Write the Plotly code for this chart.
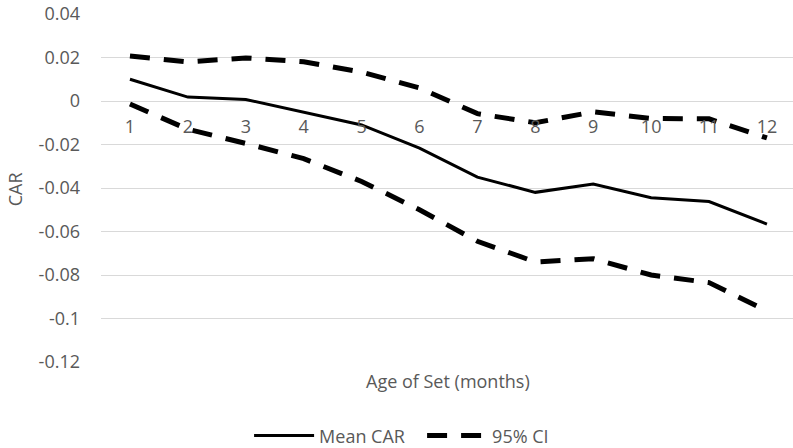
import plotly.graph_objects as go

months = list(range(1, 13))
mean_car = [0.0100, 0.0018, 0.0007, -0.0050, -0.0110, -0.0217, -0.0350, -0.0420, -0.0382, -0.0445, -0.0462, -0.0566]
ci_upper = [0.0207, 0.0180, 0.0198, 0.0180, 0.0133, 0.0060, -0.0058, -0.0100, -0.0050, -0.0080, -0.0082, -0.0170]
ci_lower = [-0.0014, -0.0130, -0.0195, -0.0265, -0.0370, -0.0500, -0.0645, -0.0740, -0.0725, -0.0800, -0.0835, -0.0965]
y_ticks = [0.04, 0.02, 0, -0.02, -0.04, -0.06, -0.08, -0.1, -0.12]
y_tick_text = ["0.04", "0.02", "0", "-0.02", "-0.04", "-0.06", "-0.08", "-0.1", "-0.12"]

FONT = "Open Sans"
GRAY = "#595959"
FS = 18

fig = go.Figure()
fig.add_trace(go.Scatter(x=months, y=mean_car, mode="lines", name="Mean CAR",
                         line=dict(color="black", width=3)))
fig.add_trace(go.Scatter(x=months, y=ci_upper, mode="lines", name="95% CI",
                         legendgroup="ci",
                         line=dict(color="black", width=5, dash="20px,14px")))
fig.add_trace(go.Scatter(x=months, y=ci_lower, mode="lines", name="95% CI",
                         legendgroup="ci", showlegend=False,
                         line=dict(color="black", width=5, dash="20px,14px")))

fig.update_layout(
    width=793, height=448,
    margin=dict(l=101, r=0, t=14, b=86, autoexpand=False),
    plot_bgcolor="white", paper_bgcolor="white",
    font=dict(family=FONT, size=FS, color=GRAY),
    showlegend=True,
    legend=dict(orientation="h", x=0.464, xanchor="center",
                y=-0.212, yanchor="middle",
                font=dict(size=FS, color=GRAY), itemwidth=60,
                entrywidth=98, entrywidthmode="pixels",
                tracegroupgap=0),
    xaxis=dict(range=[0.5, 12.45], tickvals=months, ticktext=[str(m) for m in months],
               showgrid=False, zeroline=False, showline=False,
               anchor="free", position=0.75, ticks="", ticklabelstandoff=13,
               tickfont=dict(size=FS, color=GRAY)),
    yaxis=dict(range=[-0.12, 0.04], tickvals=y_ticks, ticktext=y_tick_text,
               showgrid=True, gridcolor="#d9d9d9", gridwidth=1,
               zeroline=False, showline=False, ticks="", ticklabelstandoff=20,
               tickfont=dict(size=FS, color=GRAY)),
    annotations=[
        dict(text="Age of Set (months)", xref="paper", yref="paper",
             x=0.501, y=-0.055, xanchor="center", yanchor="middle",
             showarrow=False, font=dict(size=FS, color=GRAY)),
        dict(text="CAR", xref="paper", yref="paper", textangle=-90,
             x=-0.124, y=0.497, xanchor="center", yanchor="middle",
             showarrow=False, font=dict(size=FS, color=GRAY)),
    ],
)

fig.write_html("out.html", config={"displayModeBar": False},
               post_script="document.body.style.margin='0';document.body.style.overflow='hidden';")
